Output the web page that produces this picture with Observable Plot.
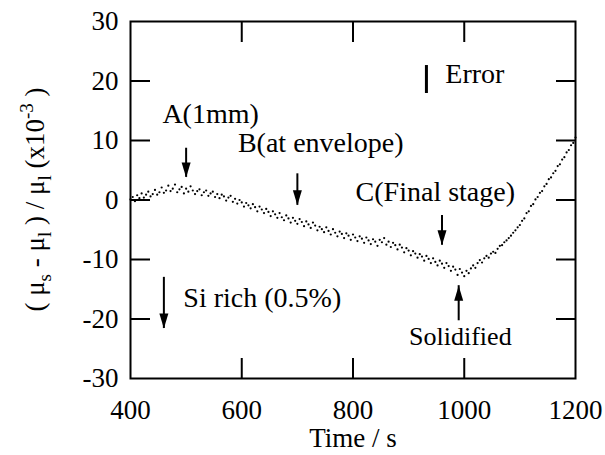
<!DOCTYPE html>
<html>
<head>
<meta charset="utf-8">
<script src="https://cdn.jsdelivr.net/npm/d3@7"></script>
<script src="https://cdn.jsdelivr.net/npm/@observablehq/plot@0.6"></script>
<style>
  body { margin: 0; background: #fff; }
  svg text, svg tspan { font-family: "Liberation Serif", "Times New Roman", Times, serif; }
</style>
</head>
<body>
<div id="chart"></div>
<script>
// Measured time (s), sampled every 4 s
const time = [
  400,404,408,412,416,420,424,428,432,436,440,444,448,452,456,460,464,468,472,476,
  480,484,488,492,496,500,504,508,512,516,520,524,528,532,536,540,544,548,552,556,
  560,564,568,572,576,580,584,588,592,596,600,604,608,612,616,620,624,628,632,636,
  640,644,648,652,656,660,664,668,672,676,680,684,688,692,696,700,704,708,712,716,
  720,724,728,732,736,740,744,748,752,756,760,764,768,772,776,780,784,788,792,796,
  800,804,808,812,816,820,824,828,832,836,840,844,848,852,856,860,864,868,872,876,
  880,884,888,892,896,900,904,908,912,916,920,924,928,932,936,940,944,948,952,956,
  960,964,968,972,976,980,984,988,992,996,1000,1004,1008,1012,1016,1020,1024,1028,1032,1036,
  1040,1044,1048,1052,1056,1060,1064,1068,1072,1076,1080,1084,1088,1092,1096,1100,1104,1108,1112,1116,
  1120,1124,1128,1132,1136,1140,1144,1148,1152,1156,1160,1164,1168,1172,1176,1180,1184,1188,1192,1196,
  1200
];
// (mu_s - mu_l) / mu_l, in units of 1e-3
const muRatio = [
  0.1,0.5,-0.2,0.8,0.3,1.1,0.4,0.9,1.4,0.6,1.0,1.7,0.9,1.3,2.1,1.2,1.6,2.4,1.5,1.9,
  2.6,1.3,1.8,2.2,1.1,1.9,1.4,2.3,1.6,1.0,1.5,1.8,0.8,1.3,1.6,0.7,1.1,1.4,0.5,1.0,
  0.3,0.9,0.6,-0.1,0.4,0.7,-0.3,0.2,-0.6,0.0,-0.4,-1.1,-0.5,-0.9,-1.4,-0.7,-1.2,-1.9,-1.1,-1.6,
  -2.2,-1.5,-2.0,-2.7,-1.9,-2.4,-3.0,-2.2,-2.9,-3.4,-2.6,-3.1,-3.8,-3.0,-3.5,-4.0,-3.2,-3.7,-4.4,-3.6,
  -4.1,-4.7,-3.8,-4.3,-5.1,-4.5,-4.9,-5.4,-4.6,-5.2,-5.8,-4.9,-5.5,-6.1,-5.3,-5.7,-6.4,-5.6,-6.0,-6.7,
  -5.8,-6.3,-6.9,-6.1,-6.5,-7.2,-6.3,-6.8,-7.4,-6.6,-7.0,-7.7,-6.7,-7.1,-6.4,-7.5,-7.0,-7.9,-7.2,-7.6,
  -8.3,-7.5,-8.0,-8.8,-8.1,-8.5,-9.3,-8.6,-9.0,-9.7,-9.1,-9.5,-10.2,-9.4,-9.9,-10.6,-9.8,-10.4,-11.0,-10.2,
  -10.7,-11.4,-10.6,-11.1,-11.9,-11.2,-11.7,-12.6,-11.6,-12.2,-12.8,-11.9,-12.3,-11.5,-11.0,-11.4,-10.6,-10.1,-10.5,-9.8,
  -9.4,-9.7,-9.0,-8.7,-8.9,-8.2,-7.7,-7.6,-7.1,-6.8,-6.4,-6.0,-5.5,-5.1,-4.6,-4.2,-3.5,-3.1,-2.2,-1.9,
  -1.0,-0.7,0.1,0.5,1.2,1.5,2.3,2.7,3.5,3.8,4.5,4.9,5.7,6.0,6.8,7.2,8.0,8.4,9.2,9.6,
  10.5
];

const xTicks = [400, 600, 800, 1000, 1200];
const yTicks = [-30, -20, -10, 0, 10, 20, 30];
const xInnerTicks = [600, 800, 1000];
const yInnerTicks = [-20, -10, 0, 10, 20];

// Annotations (data coordinates)
const noteText = ["A(1mm)", "B(at envelope)", "C(Final stage)", "Si rich (0.5%)", "Error", "Solidified"];
const noteX = [544, 742, 948, 495, 966, 993];
const noteY = [14.4, 9.5, 1.4, -16.4, 21.1, -22.9];

// Arrows: time, tail value, tip value
const arrowX = [500, 700, 960, 460, 990];
const arrowFrom = [8.7, 4.4, -2.6, -13.0, -20.3];
const arrowTo = [3.8, -0.9, -7.6, -21.6, -14.4];

// Error bar
const errX = [932];
const errLow = [17.9];
const errHigh = [22.6];

const points = time.map((t, i) => ({t, v: muRatio[i]}));
const notes = noteText.map((text, i) => ({text, x: noteX[i], y: noteY[i]}));
const arrows = arrowX.map((x, i) => ({x, y1: arrowFrom[i], y2: arrowTo[i]}));
const errors = errX.map((x, i) => ({x, lo: errLow[i], hi: errHigh[i]}));

// narrow filled arrow heads, tip at the anchor point
const headDown = {draw(ctx) { ctx.moveTo(-4.5, -15); ctx.lineTo(4.5, -15); ctx.lineTo(0, 0); ctx.closePath(); }};
const headUp = {draw(ctx) { ctx.moveTo(-4.5, 15); ctx.lineTo(4.5, 15); ctx.lineTo(0, 0); ctx.closePath(); }};

const font = "Liberation Serif";
const fmt = d => String(d);

const chart = Plot.plot({
  width: 605,
  height: 455,
  marginLeft: 130,
  marginRight: 30,
  marginTop: 21,
  marginBottom: 77,
  style: {fontFamily: font, fontSize: "27px", color: "black", background: "white", overflow: "visible"},
  x: {domain: [400, 1200]},
  y: {domain: [-30, 30]},
  marks: [
    Plot.frame({strokeWidth: 2}),
    // inward ticks on all four sides
    Plot.axisY(yInnerTicks, {anchor: "left", tickSize: 20, dx: 20, fill: "none", strokeWidth: 2, label: null}),
    Plot.axisY(yInnerTicks, {anchor: "right", tickSize: 20, dx: -20, fill: "none", strokeWidth: 2, label: null}),
    Plot.axisX(xInnerTicks, {anchor: "top", tickSize: 20, dy: 20, fill: "none", strokeWidth: 2, label: null}),
    Plot.axisX(xInnerTicks, {anchor: "bottom", tickSize: 20, dy: -20, fill: "none", strokeWidth: 2, label: null}),
    // tick labels
    Plot.axisY(yTicks, {anchor: "left", tickSize: 0, tickPadding: 12, fontSize: 27, fontFamily: font, tickFormat: fmt, label: null}),
    Plot.axisX(xTicks, {anchor: "bottom", tickSize: 0, tickPadding: 21, fontSize: 27, fontFamily: font, tickFormat: fmt, label: null}),
    Plot.text(["Time / s"], {frameAnchor: "bottom", dy: 68, fontSize: 27, fontFamily: font}),
    // measurements
    Plot.dot(points, {x: "t", y: "v", r: 1.1, fill: "black", stroke: "none"}),
    // arrows
    Plot.ruleX(arrows, {x: "x", y1: "y1", y2: "y2", strokeWidth: 2}),
    Plot.dot(arrows.filter(d => d.y2 < d.y1), {x: "x", y: "y2", symbol: headDown, fill: "black", stroke: "none"}),
    Plot.dot(arrows.filter(d => d.y2 > d.y1), {x: "x", y: "y2", symbol: headUp, fill: "black", stroke: "none"}),
    // error bar
    Plot.ruleX(errors, {x: "x", y1: "lo", y2: "hi", strokeWidth: 3}),
    // annotation labels
    Plot.text(notes.filter(d => d.text === "Error" || d.text.startsWith("Si")), {x: "x", y: "y", text: "text", textAnchor: "start", fontSize: 28, fontFamily: font}),
    Plot.text(notes.filter(d => d.text !== "Error" && !d.text.startsWith("Si") && d.text !== "Solidified"), {x: "x", y: "y", text: "text", fontSize: 28, fontFamily: font}),
    Plot.text(notes.filter(d => d.text === "Solidified"), {x: "x", y: "y", text: "text", fontSize: 26, fontFamily: font})
  ]
});

// rotated y-axis title with sub/superscripts
const svg = d3.select(chart);
const title = svg.append("text")
  .attr("transform", "translate(44,199.5) rotate(-90)")
  .attr("text-anchor", "middle")
  .style("font-family", font)
  .attr("font-size", 27)
  .attr("fill", "black");
const parts = [
  ["( \u03bc", 0], ["s", 1], [" - \u03bc", 0], ["l", 1], [" ) / \u03bc", 0], ["l", 1],
  [" (x10", 0], ["-3", -1], [" )", 0]
];
let shift = 0;
for (const [s, kind] of parts) {
  const target = kind === 1 ? 7 : kind === -1 ? -11 : 0;
  title.append("tspan")
    .attr("dy", target - shift)
    .attr("font-size", kind === 0 ? 27 : 19)
    .text(s);
  shift = target;
}

document.getElementById("chart").appendChild(chart);
</script>
</body>
</html>
